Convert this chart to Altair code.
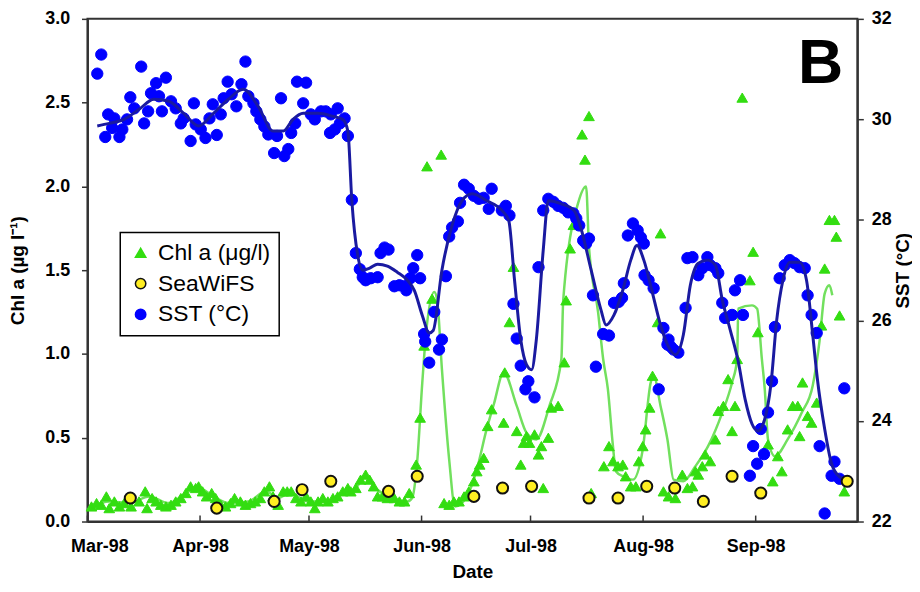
import json
import altair as alt
import pandas as pd

# ---------------- data (days since 1 Mar 1998) ----------------
month_labels = ["Mar-98", "Apr-98", "May-98", "Jun-98", "Jul-98", "Aug-98", "Sep-98"]
month_days = [0, 31, 61, 92, 122, 153, 184]
x_end = 212
chl_ticks = [0.0, 0.5, 1.0, 1.5, 2.0, 2.5, 3.0]
sst_ticks = [22, 24, 26, 28, 30, 32]
series_names = ["Chl a (μg/l)", "SeaWiFS", "SST (°C)"]

sst_day = [2.7, 3.8, 4.9, 5.7, 6.8, 7.4, 8.8, 9.6, 10.9, 11.8, 12.9, 14.8, 15.6, 16.7, 17.5,
           18.9, 19.7, 20.5, 21.6, 23.0, 24.3, 25.7, 26.5, 28.4, 29.3, 29.8, 31.2, 32.5, 33.6,
           34.5, 35.6, 36.7, 37.5, 38.6, 39.7, 41.0, 42.4, 43.5, 44.3, 45.7, 46.5, 47.6, 48.7,
           49.8, 51.4, 52.2, 53.3, 54.2, 55.3, 56.1, 57.2, 57.7, 59.4, 60.2, 61.5, 62.6, 64.3,
           65.6, 66.8, 67.0, 68.1, 68.9, 69.5, 70.8, 71.7,
           72.8, 73.9, 75.0, 75.8, 76.6, 78.0, 79.9, 80.7, 81.8, 82.9, 84.5, 85.9, 87.3, 87.8,
           88.9, 89.7, 90.8, 91.6, 92.7, 93.0, 94.1, 95.5, 96.8, 97.6, 98.7, 99.6, 100.4, 102.0,
           102.6, 103.7, 105.0, 106.4, 107.8, 109.1, 110.5, 111.3, 114.1, 115.2, 116.2, 117.3,
           118.2, 119.3, 120.6, 121.4, 123.1, 124.2, 125.5, 126.9, 128.3, 129.6, 131.0, 132.4,
           133.8, 134.6, 135.4, 136.5, 137.3, 138.1, 139.2, 140.0, 142.0, 143.6, 145.0, 146.3,
           147.2, 147.7, 148.8, 150.2, 151.5, 152.4, 153.2, 153.4, 154.5, 155.9, 157.3, 158.6,
           159.7, 160.0, 160.6, 161.4, 162.7, 164.7, 165.2, 166.6, 168.2, 169.3, 170.7, 171.5,
           172.9, 173.7, 174.8, 175.6, 177.5, 178.3, 179.7, 180.5, 182.4, 183.3, 184.4, 185.4,
           186.3, 187.4, 188.5, 189.3, 190.6, 192.0, 193.4, 194.7, 196.1, 197.5, 198.3, 199.4,
           200.8, 201.6, 203.0, 204.9, 205.7, 207.1, 208.4]
sst_val = [30.91, 31.29, 29.65, 30.10, 29.83, 30.02, 29.65, 29.80, 30.00, 30.44, 30.22, 31.05,
           29.92, 30.16, 30.52, 30.72, 30.46, 30.16, 30.83, 30.36, 30.22, 29.92, 30.02, 29.57,
           30.32, 29.90, 29.80, 29.63, 30.02, 30.30, 29.69, 30.10, 30.42, 30.75, 30.50, 30.26,
           30.70, 31.15, 30.46, 30.32, 30.16, 30.00, 29.86, 29.70, 29.33, 29.67, 30.42, 29.27,
           29.41, 29.73, 29.92, 30.75, 30.32, 30.73, 30.10, 30.00, 30.16, 30.16, 29.73, 30.10,
           29.80, 30.22, 29.92, 30.02, 29.67,
           28.40, 27.34, 27.02, 26.86, 26.80, 26.84, 26.86, 27.34, 27.45, 27.41, 26.68, 26.70,
           26.68, 26.60, 26.84, 27.04, 27.30, 26.84, 25.73, 25.58, 25.16, 26.17, 25.42, 25.62,
           26.88, 27.67, 27.85, 27.97, 28.34, 28.70, 28.62, 28.48, 28.42, 28.44, 28.22, 28.62,
           28.19, 28.28, 28.09, 26.33, 25.64, 25.10, 24.63, 24.79, 24.47, 27.06, 28.19, 28.42,
           28.36, 28.28, 28.24, 28.15, 28.13, 28.03, 27.89, 27.59, 27.53, 27.63, 26.50, 25.08,
           25.73, 25.70, 26.35, 26.37, 26.45, 26.74, 27.69, 27.93, 27.79, 27.65, 27.53, 26.90,
           26.80, 26.64, 24.63, 25.85, 25.52, 25.62, 25.48, 25.42, 25.36, 26.25, 27.24, 27.26,
           26.90, 27.04, 27.26, 27.10, 27.04, 26.94, 26.35, 26.05, 26.11, 26.60, 26.80, 26.11,
           22.91, 23.50, 23.15, 23.84, 23.34, 24.17, 24.79, 25.87, 26.84, 27.10, 27.20, 27.14,
           27.06, 27.04, 26.50, 26.11, 25.75, 23.50, 22.16, 22.91, 23.19, 22.85, 24.65]

sst_line_day = [2.7, 6.0, 10.1, 14.2, 18.3, 22.4, 26.5, 30.6, 34.7, 38.8, 42.9, 47.0, 51.1, 53.9,
                56.6, 59.4, 63.5, 67.6, 70.3, 71.7, 72.8, 74.4, 75.8, 77.7, 79.9, 82.6, 85.3, 88.1,
                90.0, 92.2, 94.1, 95.2, 97.6, 100.4, 103.1, 105.9, 110.0, 114.1, 116.0, 117.6,
                119.3, 120.9, 122.3, 123.6, 125.5, 126.9, 130.5, 134.0, 135.9, 138.7, 141.4, 142.8,
                145.0, 147.4, 149.6, 151.3, 153.2, 155.4, 157.8, 159.7, 161.9, 164.1, 166.0, 168.2,
                170.7, 172.9, 174.8, 177.0, 179.2, 181.1, 183.0, 184.6, 186.5, 188.2, 189.8, 191.5,
                193.4, 196.1, 198.0, 199.7, 201.0, 203.0, 204.9, 207.1, 208.4]
sst_line_val = [29.87, 29.92, 30.00, 30.20, 30.40, 30.36, 30.12, 29.87, 30.12, 30.40, 30.60, 30.26,
                29.77, 29.77, 30.00, 30.12, 30.12, 30.06, 30.00, 29.77, 28.38, 27.30, 27.00, 27.04,
                27.12, 27.08, 26.96, 26.80, 26.60, 26.10, 25.75, 25.80, 27.00, 27.89, 28.38, 28.52,
                28.38, 28.19, 27.99, 26.80, 25.62, 25.12, 25.02, 25.62, 27.40, 28.38, 28.32, 28.19,
                27.83, 27.00, 26.21, 25.91, 26.11, 26.60, 27.20, 27.49, 27.20, 26.60, 25.91, 25.52,
                25.32, 25.72, 26.70, 27.14, 27.20, 27.10, 26.41, 25.81, 25.18, 24.43, 23.94, 23.80,
                24.04, 24.73, 26.01, 26.80, 27.16, 27.16, 26.80, 25.72, 24.83, 23.84, 23.15, 22.89,
                22.85]

chl_day = [1.1, 2.5, 3.8, 5.2, 6.0, 7.4, 8.8, 10.1, 12.0, 14.2, 15.9, 16.4, 17.8, 18.9, 20.2,
           21.6, 23.0, 24.3, 25.7, 27.1, 28.4, 29.8, 30.6, 31.7, 32.8, 34.2, 35.3, 36.7, 38.0,
           39.4, 40.5, 42.1, 43.5, 44.9, 46.2, 47.6, 48.7, 50.1, 51.1, 52.5, 53.9, 55.0, 56.1,
           57.4, 58.8, 60.2, 61.5, 62.6, 63.5, 64.8, 66.2, 67.6, 68.9, 70.3, 71.7, 72.5, 73.9,
           75.2, 76.6, 77.7, 78.8, 79.9, 81.2, 82.6, 84.5, 85.9, 87.3, 88.6, 90.5, 91.6, 92.7,
           93.5, 94.9, 97.4, 98.2, 99.6, 100.9, 102.3, 103.7, 105.0, 106.4, 107.2, 108.0, 109.1,
           110.2, 111.3, 114.6, 114.9, 116.2, 117.3, 118.2, 119.3, 120.1, 120.9, 121.7, 123.1,
           124.2, 125.0, 125.5, 126.9, 127.7, 129.6, 131.3, 131.8, 132.9, 133.8, 136.2, 137.0,
           138.1, 138.7, 142.2, 143.6, 144.7, 146.1, 147.4, 148.2, 149.6, 151.0, 151.8, 152.9,
           153.7, 154.8, 155.6, 157.0, 157.8, 158.6, 160.0, 161.9, 163.8, 165.2, 166.6, 167.4,
           168.2, 169.3, 170.1, 171.5, 172.9, 173.7, 175.1, 176.4, 177.5, 178.3, 178.9, 180.3,
           182.4, 183.3, 184.6, 187.4, 188.7, 190.1, 191.2, 192.8, 194.2, 195.6, 196.1, 196.9,
           198.3, 199.4, 200.8, 202.1, 203.0, 204.3, 205.7, 206.2, 207.1, 208.4]
chl_val = [0.09, 0.11, 0.10, 0.15, 0.08, 0.12, 0.09, 0.11, 0.09, 0.12, 0.18, 0.08, 0.14, 0.12,
           0.10, 0.09, 0.10, 0.12, 0.14, 0.17, 0.21, 0.20, 0.21, 0.18, 0.15, 0.17, 0.14, 0.10,
           0.09, 0.11, 0.14, 0.12, 0.10, 0.11, 0.12, 0.14, 0.18, 0.21, 0.15, 0.10, 0.18, 0.18,
           0.18, 0.14, 0.12, 0.15, 0.12, 0.08, 0.12, 0.14, 0.12, 0.14, 0.15, 0.18, 0.20, 0.18,
           0.20, 0.25, 0.28, 0.25, 0.21, 0.15, 0.15, 0.14, 0.14, 0.12, 0.12, 0.17, 0.34, 0.62,
           1.05, 2.12, 1.33, 2.19, 0.11, 0.10, 0.12, 0.12, 0.15, 0.18, 0.24, 0.30, 0.34, 0.38,
           0.57, 0.67, 0.59, 0.89, 1.19, 1.52, 0.54, 0.34, 0.47, 0.51, 0.47, 0.52, 0.40, 0.45,
           0.20, 0.50, 0.68, 0.69, 0.95, 1.32, 1.63, 1.77, 2.31, 2.16, 2.42, 0.17, 0.33, 0.45,
           0.36, 0.33, 0.34, 0.27, 0.21, 0.21, 0.36, 0.45, 0.55, 0.68, 0.87, 1.19, 1.72, 0.18,
           0.15, 0.14, 0.28, 0.20, 0.21, 0.30, 0.28, 0.33, 0.40, 0.36, 0.49, 0.66, 0.69, 0.85,
           0.54, 0.69, 0.97, 2.53, 1.44, 1.61, 1.13, 0.46, 0.24, 0.39, 0.30, 0.55, 0.69, 0.69,
           0.51, 0.83, 0.63, 0.59, 0.71, 1.17, 1.51, 1.80, 1.80, 1.70, 1.23, 0.18]

chl_line_day = [1.1, 6.0, 11.5, 17.0, 22.4, 27.9, 30.6, 34.7, 38.8, 44.3, 49.2, 52.5, 55.8, 60.7,
                66.2, 70.3, 73.9, 76.6, 79.3, 84.0, 88.1, 89.4, 90.8, 92.2, 93.3, 95.5, 96.3, 97.6,
                99.6, 101.2, 104.5, 107.2, 109.9, 111.9, 114.6, 118.2, 120.9, 123.6, 127.2, 130.5,
                131.0, 135.1, 137.3, 138.1, 140.6, 142.0, 143.3, 144.7, 145.5, 147.4, 150.2, 152.9,
                155.1, 155.9, 157.8, 159.7, 161.4, 164.1, 167.4, 170.9, 174.8, 177.5, 178.9, 179.2,
                183.0, 184.4, 185.7, 186.5, 187.4, 189.3, 192.8, 196.7, 199.7, 201.6, 203.0, 204.3,
                205.1]
chl_line_val = [0.09, 0.12, 0.11, 0.15, 0.11, 0.18, 0.20, 0.15, 0.11, 0.12, 0.18, 0.14, 0.17, 0.12,
                0.12, 0.17, 0.20, 0.27, 0.20, 0.14, 0.12, 0.14, 0.36, 0.83, 1.14, 1.37, 1.32, 0.91,
                0.37, 0.09, 0.15, 0.31, 0.55, 0.70, 0.89, 0.69, 0.53, 0.49, 0.69, 0.97, 1.32, 1.90,
                2.00, 1.64, 1.25, 0.97, 0.79, 0.45, 0.30, 0.27, 0.25, 0.43, 0.83, 0.87, 0.69, 0.49,
                0.25, 0.24, 0.33, 0.45, 0.65, 0.83, 0.97, 1.27, 1.29, 1.27, 0.97, 0.79, 0.49, 0.39,
                0.49, 0.65, 0.81, 1.08, 1.36, 1.41, 1.35]

swf_day = [11.8, 35.6, 51.4, 59.1, 67.0, 82.9, 90.8, 106.4, 114.3, 122.3, 138.1, 146.1, 154.0,
           161.7, 169.6, 177.5, 185.4, 209.2]
swf_val = [0.14, 0.08, 0.12, 0.19, 0.24, 0.18, 0.27, 0.15, 0.20, 0.21, 0.14, 0.14, 0.21, 0.20,
           0.12, 0.27, 0.17, 0.24]

# ---------------- frames ----------------
sst_df = pd.DataFrame({"day": sst_day, "value": sst_val, "series": series_names[2]})
sst_line_df = pd.DataFrame({"day": sst_line_day, "value": sst_line_val})
chl_df = pd.DataFrame({"day": chl_day, "value": chl_val, "series": series_names[0]})
chl_line_df = pd.DataFrame({"day": chl_line_day, "value": chl_line_val})
swf_df = pd.DataFrame({"day": swf_day, "value": swf_val, "series": series_names[1]})
tick_df = pd.DataFrame({"day": month_days})
panel_df = pd.DataFrame({"label": ["B"]})

FONT = "Liberation Sans"
W, H = 775, 506

label_expr = f"{json.dumps(month_labels)}[indexof({json.dumps(month_days)}, datum.value)]"
x_axis = alt.Axis(values=month_days, labelExpr=label_expr, title="Date", ticks=False,
                  labelPadding=16, labelFlush=True, labelFlushOffset=17, titlePadding=7,
                  labelFontSize=18, titleFontSize=19)
x_scale = alt.Scale(domain=[0, x_end], nice=False, zero=False)


def xenc():
    return alt.X("day:Q", scale=x_scale, axis=x_axis)


chl_scale = alt.Scale(domain=[0, 3], nice=False, zero=False)
sst_scale = alt.Scale(domain=[22, 32], nice=False, zero=False)

left_axis = alt.Axis(values=chl_ticks, format=".1f", title="Chl a (µg l⁻¹)", orient="left",
                     tickSize=6, labelPadding=12, titlePadding=17, labelFontSize=18,
                     titleFontSize=19)
right_axis = alt.Axis(values=sst_ticks, format="d", title="SST (°C)", orient="right",
                      tickSize=6, labelPadding=8, titlePadding=21, labelFontSize=18,
                      titleFontSize=19, titleAngle=270)

legend = alt.Legend(orient="none", legendX=33, legendY=215, title=None,
                    fillColor="white", strokeColor="black", padding=9, rowPadding=7,
                    labelFontSize=23, labelFont=FONT, labelFontWeight="normal",
                    symbolSize=110, symbolStrokeWidth=1.5, labelOffset=6)
color_enc = alt.Color("series:N", scale=alt.Scale(domain=series_names,
                      range=["#33dd11", "#ffee22", "#0000ff"]), legend=legend)
shape_enc = alt.Shape("series:N", scale=alt.Scale(domain=series_names,
                      range=["triangle-up", "circle", "circle"]), legend=legend)
stroke_enc = alt.Stroke("series:N", scale=alt.Scale(domain=series_names,
                        range=["#33dd11", "#111111", "#0000ff"]), legend=legend)

chl_line = alt.Chart(chl_line_df).mark_line(color="#72e05e", strokeWidth=2.5,
                                            interpolate="monotone").encode(
    x=xenc(), y=alt.Y("value:Q", scale=chl_scale, axis=left_axis))
chl_pts = alt.Chart(chl_df).mark_point(filled=True, size=115, strokeWidth=1, opacity=1).encode(
    x=xenc(), y=alt.Y("value:Q", scale=chl_scale, axis=left_axis),
    color=color_enc, shape=shape_enc, stroke=stroke_enc)
x_ticks = alt.Chart(tick_df).mark_rule(color="#333333", strokeWidth=1.5).encode(
    x=xenc(), y=alt.value(H), y2=alt.value(H - 6))
panel = alt.Chart(panel_df).mark_text(fontSize=63, fontWeight="bold", font=FONT,
                                      align="center", baseline="alphabetic",
                                      color="black").encode(
    text="label:N", x=alt.value(738), y=alt.value(65))
left = alt.layer(chl_line, chl_pts, x_ticks, panel)

sst_pts = alt.Chart(sst_df).mark_point(filled=True, size=130, strokeWidth=1, opacity=1).encode(
    x=xenc(), y=alt.Y("value:Q", scale=sst_scale, axis=right_axis),
    color=color_enc, shape=shape_enc, stroke=stroke_enc)
sst_line = alt.Chart(sst_line_df).mark_line(color="#1a1aa0", strokeWidth=3,
                                            interpolate="monotone").encode(
    x=xenc(), y=alt.Y("value:Q", scale=sst_scale, axis=right_axis))
right = alt.layer(sst_pts, sst_line)

swf_pts = alt.Chart(swf_df).mark_point(filled=True, size=125, strokeWidth=2, opacity=1).encode(
    x=xenc(), y=alt.Y("value:Q", scale=chl_scale, axis=None),
    color=color_enc, shape=shape_enc, stroke=stroke_enc)

chart = alt.layer(left, right, swf_pts).resolve_scale(y="independent").properties(
    width=W, height=H,
    autosize=alt.AutoSizeParams(type="none"),
    padding={"left": 80, "top": 9, "right": 55, "bottom": 66},
).configure_view(stroke="#333333", strokeWidth=2).configure_axis(
    grid=False, labelFont=FONT, titleFont=FONT, labelFontWeight="bold",
    titleFontWeight="bold", labelColor="black", titleColor="black",
    domainColor="#333333", domainWidth=2, tickColor="#333333", tickWidth=1.5,
).configure_legend(strokeWidth=1.5)

chart.save("out.html", embed_options={"renderer": "svg", "actions": False})
